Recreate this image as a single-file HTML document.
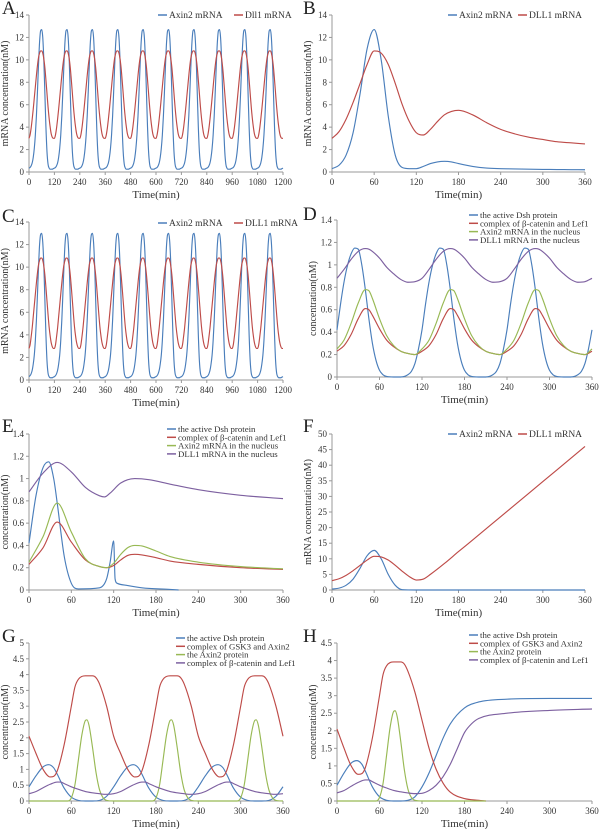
<!DOCTYPE html>
<html><head><meta charset="utf-8">
<style>
body{margin:0;background:#fff;}
svg{display:block;font-family:"Liberation Serif",serif;}
</style></head>
<body>
<svg id="fig" width="600" height="829" viewBox="0 0 600 829"></svg>
<script>
// ---------- DATA ----------
const aT = [0,5,10,15,20,25,30,35,40,45,50,55,60,65,70,75,80,85,90,95,100,105,110,115,120];
const aAxin2 = [0.35,0.4,0.55,0.8,1.3,2.1,3.3,5,7.2,9.6,11.6,12.6,12.7,12,10,7,4,1.8,0.7,0.35,0.25,0.25,0.25,0.3,0.35];
const aDll1 = [3,3.3,3.9,4.7,5.6,6.6,7.6,8.6,9.5,10.2,10.6,10.8,10.8,10.6,10.1,9.3,8.2,7,5.8,4.8,4,3.4,3.1,3,3];
const cAxin2 = [0.3,0.38,0.55,0.85,1.4,2.2,3.5,5.3,7.6,10,12,12.9,13,12.2,10.2,7.1,4,1.7,0.6,0.3,0.2,0.2,0.2,0.25,0.3];
const cDll1 = [2.8,3.1,3.8,4.6,5.6,6.6,7.6,8.6,9.5,10.2,10.6,10.8,10.8,10.6,10.1,9.3,8.2,7,5.8,4.7,3.9,3.3,2.95,2.8,2.8];
const bT = [0,10,20,30,40,50,60,70,80,90,100,110,120,130,140,150,160,170,180,200,220,240,260,280,300,320,340,360];
const bAxin2 = [0.3,0.6,1.5,3.5,7,11,12.7,10,5,1.5,0.4,0.3,0.3,0.5,0.75,0.9,0.95,0.9,0.75,0.5,0.35,0.3,0.27,0.25,0.23,0.22,0.21,0.2];
const bDll1 = [3,3.6,4.7,6.2,7.9,9.6,10.8,10.6,9.6,7.9,6,4.5,3.5,3.3,3.8,4.5,5.1,5.4,5.5,5.1,4.4,3.8,3.4,3.1,2.9,2.7,2.6,2.5];
const fAxT = [0,10,20,30,40,50,60,70,80,90,100,120,200,360];
const fAxin2 = [0.3,0.6,1.5,3.5,7,11,12.7,10,5,1.5,0.1,0,0,0];
const fDlT = [0,10,20,30,40,50,60,70,80,90,100,110,120,130,140,160,180,200,240,280,320,360];
const fDll1 = [3,3.6,4.7,6.2,7.9,9.6,10.8,10.6,9.6,7.9,6,4.3,3.2,3.5,5,8.5,12.3,16,23.5,31,38.5,46];
const dT = [0,5,10,15,20,25,30,35,40,45,50,55,60,65,70,80,90,100,105,110,115,120];
const dDsh = [0.42,0.65,0.85,1.0,1.1,1.15,1.14,1.0,0.78,0.52,0.3,0.15,0.06,0.02,0.005,0,0,0.02,0.05,0.12,0.25,0.42];
const dT2 = [0,10,20,30,40,45,50,60,70,80,90,100,110,120];
const dLef = [0.23,0.28,0.38,0.52,0.61,0.6,0.55,0.43,0.33,0.27,0.23,0.21,0.2,0.23];
const dAxin = [0.25,0.33,0.48,0.66,0.78,0.77,0.7,0.52,0.37,0.28,0.23,0.21,0.2,0.25];
const dDll = [0.88,0.96,1.05,1.12,1.145,1.14,1.12,1.06,0.98,0.92,0.87,0.845,0.85,0.88];
const eDshT = [0,10,20,28,35,40,50,60,70,100,110,115,120,122,125,140,160,200,212];
const eDsh = [0.42,0.85,1.1,1.15,1.0,0.78,0.3,0.06,0.01,0.02,0.1,0.25,0.44,0.1,0.06,0.04,0.02,0.005,0];
const eT = [0,20,40,60,80,100,110,120,130,140,150,160,180,200,240,300,360];
const eLef = [0.23,0.38,0.61,0.43,0.27,0.21,0.2,0.22,0.27,0.31,0.32,0.315,0.29,0.26,0.23,0.2,0.185];
const eAxin = [0.25,0.48,0.78,0.52,0.28,0.21,0.2,0.24,0.32,0.38,0.4,0.395,0.35,0.3,0.25,0.21,0.19];
const eDllT = [0,20,40,60,80,100,107,115,130,150,170,200,240,300,360];
const eDll = [0.88,1.05,1.145,1.06,0.92,0.845,0.835,0.87,0.96,1.0,0.99,0.95,0.9,0.85,0.82];
const gT = [0,10,20,28,35,40,50,60,70,80,90,100,110,120];
const gDsh = [0.45,0.8,1.08,1.15,1.05,0.85,0.4,0.12,0.02,0,0,0.02,0.15,0.45];
const gGskT = [0,10,20,30,35,40,50,60,65,70,80,90,95,100,110,120];
const gGsk = [2.05,1.5,1.0,0.76,0.78,0.95,1.8,3.0,3.6,3.85,3.96,3.96,3.9,3.7,3.0,2.05];
const gAxT = [0,55,60,65,70,75,80,82,85,90,95,100,105,110,120];
const gAxin = [0,0,0.1,0.5,1.3,2.1,2.55,2.57,2.4,1.7,0.9,0.35,0.1,0.02,0];
const gLefT = [0,10,20,30,40,45,50,60,70,80,90,100,110,120];
const gLef = [0.23,0.3,0.42,0.53,0.6,0.6,0.55,0.45,0.37,0.3,0.26,0.23,0.21,0.23];
const hDshT = [0,10,20,28,35,40,50,60,70,80,90,100,110,120,130,140,150,160,180,200,240,300,360];
const hDsh = [0.45,0.8,1.08,1.15,1.05,0.85,0.4,0.12,0.02,0,0,0.02,0.12,0.4,0.8,1.3,1.8,2.2,2.65,2.82,2.9,2.92,2.92];
const hGskT = [0,10,20,30,35,40,50,60,65,70,80,90,95,100,110,120,130,140,150,160,180,200,210];
const hGsk = [2.05,1.5,1.0,0.76,0.78,0.95,1.8,3.0,3.6,3.85,3.96,3.96,3.9,3.7,3.1,2.3,1.5,0.9,0.5,0.25,0.07,0.02,0];
const hAxT = [0,55,60,65,70,75,80,82,85,90,95,100,105,110,120,210];
const hAxin = [0,0,0.1,0.5,1.3,2.1,2.55,2.57,2.4,1.7,0.9,0.35,0.1,0.02,0,0];
const hLefT = [0,10,20,30,40,45,50,60,70,80,90,100,110,120,130,140,150,160,170,180,190,200,240,300,360];
const hLef = [0.23,0.3,0.42,0.53,0.6,0.6,0.55,0.45,0.37,0.3,0.26,0.23,0.21,0.22,0.3,0.45,0.7,1.05,1.5,1.95,2.2,2.35,2.5,2.58,2.62];

const BLUE="#4a7ebb", RED="#be4b48", GREEN="#98b954", PURPLE="#7d60a0";

function rep(ts, vs, period, tmax){
  const T=[],V=[];
  for(let k=0;k*period<tmax;k++){
    for(let i=(k?1:0);i<ts.length;i++){
      const t=ts[i]+k*period; if(t>tmax+0.001) break;
      T.push(t); V.push(vs[i]);
    }
  }
  return [T,V];
}
const NS="http://www.w3.org/2000/svg";
const svg=document.getElementById('fig');
function mk(tag,attrs,parent){const e=document.createElementNS(NS,tag);for(const k in attrs)e.setAttribute(k,attrs[k]);(parent||svg).appendChild(e);return e;}

function monoPath(xs,ys){
  const n=xs.length; if(n<2) return "";
  const d=[],m=new Array(n);
  for(let i=0;i<n-1;i++) d.push((ys[i+1]-ys[i])/(xs[i+1]-xs[i]));
  m[0]=d[0]; m[n-1]=d[n-2];
  for(let i=1;i<n-1;i++){ m[i]=(d[i-1]*d[i]<=0)?0:(d[i-1]+d[i])/2; }
  for(let i=0;i<n-1;i++){ if(d[i]===0){m[i]=0;m[i+1]=0;continue;}
    const a=m[i]/d[i],b=m[i+1]/d[i],s=a*a+b*b; if(s>9){const t=3/Math.sqrt(s);m[i]=t*a*d[i];m[i+1]=t*b*d[i];}}
  let p="M"+xs[0].toFixed(2)+","+ys[0].toFixed(2);
  for(let i=0;i<n-1;i++){const h=(xs[i+1]-xs[i])/3;
    p+=" C"+(xs[i]+h).toFixed(2)+","+(ys[i]+m[i]*h).toFixed(2)+" "+(xs[i+1]-h).toFixed(2)+","+(ys[i+1]-m[i+1]*h).toFixed(2)+" "+xs[i+1].toFixed(2)+","+ys[i+1].toFixed(2);}
  return p;
}

function panel(cfg){
  const g=mk('g',{});
  
  
  const sx=v=>cfg.x0+(v/cfg.xmax)*(cfg.x1-cfg.x0);
  const sy=v=>cfg.yb-(v/cfg.ymax)*(cfg.yb-cfg.yt);
  const L=mk('text',{x:cfg.lx,y:cfg.ly,'font-size':19,fill:'#222'},g); L.textContent=cfg.letter;
   
  const ax=mk('path',{d:`M${cfg.x0},${cfg.yt} V${cfg.yb} H${cfg.x1}`,stroke:'#999',fill:'none','stroke-width':1},g);
   
  const nY=Math.round(cfg.ymax/cfg.ystep);
  for(let i=0;i<=nY;i++){const v=+(i*cfg.ystep).toFixed(2),y=sy(v);
    mk('line',{x1:cfg.x0-3,x2:cfg.x0,y1:y,y2:y,stroke:'#999'},g);
    const t=mk('text',{x:cfg.x0-5,y:y+3,'font-size':9,'text-anchor':'end',fill:'#333'},g); t.textContent=String(v);
     }
  for(let v=0;v<=cfg.xmax;v+=cfg.xstep){const x=sx(v);
    mk('line',{x1:x,x2:x,y1:cfg.yb,y2:cfg.yb+3,stroke:'#999'},g);
    const t=mk('text',{x:x,y:cfg.yb+13,'font-size':9,'text-anchor':'middle',fill:'#333'},g); t.textContent=String(v);
     }
  const xt=mk('text',{x:(cfg.x0+cfg.x1)/2,y:cfg.yb+26,'font-size':11,'text-anchor':'middle',fill:'#333'},g); xt.textContent='Time(min)';
   
  const cy=(cfg.yt+cfg.yb)/2, tx=cfg.x0-21;
  const yt=mk('text',{x:tx,y:cy,'font-size':10,'text-anchor':'middle',fill:'#333',transform:`rotate(-90 ${tx} ${cy})`},g); yt.textContent=cfg.ytitle;
   
  cfg.series.forEach(s=>{
    const p=mk('path',{d:monoPath(s.t.map(sx),s.v.map(sy)),stroke:s.c,fill:'none','stroke-width':1.15},g);
     
  });
  cfg.series.forEach((s,i)=>{
    let lx,ly;
    if(cfg.legH){ lx=cfg.legX+i*cfg.legGap; ly=cfg.legY; }
    else { lx=cfg.legX; ly=cfg.legY+i*8.3; }
    mk('line',{x1:lx,x2:lx+9,y1:ly,y2:ly,stroke:s.c,'stroke-width':1.5},g);
    const t=mk('text',{x:lx+11,y:ly+3,'font-size':cfg.legH?9.5:8.8,fill:'#333'},g); t.textContent=s.n;
     
  });
}

let A1=rep(aT,aAxin2,120,1200),A2=rep(aT,aDll1,120,1200);
panel({letter:'A',lx:2,ly:14,x0:29,x1:283,yt:15,yb:172,xmax:1200,xstep:120,ymax:14,ystep:2,ytitle:'mRNA concentration(nM)',
  legH:true,legX:158,legGap:76,legY:15,series:[{t:A1[0],v:A1[1],c:BLUE,n:'Axin2 mRNA'},{t:A2[0],v:A2[1],c:RED,n:'Dll1 mRNA'}]});
panel({letter:'B',lx:303,ly:14,x0:332,x1:585,yt:15,yb:172,xmax:360,xstep:60,ymax:14,ystep:2,ytitle:'mRNA concentration(nM)',
  legH:true,legX:448,legGap:70,legY:15,series:[{t:bT,v:bAxin2,c:BLUE,n:'Axin2 mRNA'},{t:bT,v:bDll1,c:RED,n:'DLL1 mRNA'}]});
let C1=rep(aT,cAxin2,120,1200),C2=rep(aT,cDll1,120,1200);
panel({letter:'C',lx:2,ly:222,x0:29,x1:283,yt:222,yb:380,xmax:1200,xstep:120,ymax:14,ystep:2,ytitle:'mRNA concentration(nM)',
  legH:true,legX:158,legGap:76,legY:223,series:[{t:C1[0],v:C1[1],c:BLUE,n:'Axin2 mRNA'},{t:C2[0],v:C2[1],c:RED,n:'DLL1 mRNA'}]});
let D1=rep(dT,dDsh,120,360),D2=rep(dT2,dLef,120,360),D3=rep(dT2,dAxin,120,360),D4=rep(dT2,dDll,120,360);
panel({letter:'D',lx:303,ly:220,x0:337,x1:592,yt:220,yb:377,xmax:360,xstep:60,ymax:1.4,ystep:0.2,ytitle:'concentration(nM)',
  legX:469,legY:215,series:[{t:D1[0],v:D1[1],c:BLUE,n:'the active Dsh protein'},{t:D2[0],v:D2[1],c:RED,n:'complex of β-catenin and Lef1'},
  {t:D3[0],v:D3[1],c:GREEN,n:'Axin2 mRNA in the nucleus'},{t:D4[0],v:D4[1],c:PURPLE,n:'DLL1 mRNA in the nucleus'}]});
panel({letter:'E',lx:2,ly:432,x0:29,x1:283,yt:434,yb:590,xmax:360,xstep:60,ymax:1.4,ystep:0.2,ytitle:'concentration(nM)',
  legX:167,legY:429,series:[{t:eDshT,v:eDsh,c:BLUE,n:'the active Dsh protein'},{t:eT,v:eLef,c:RED,n:'complex of β-catenin and Lef1'},
  {t:eT,v:eAxin,c:GREEN,n:'Axin2 mRNA in the nucleus'},{t:eDllT,v:eDll,c:PURPLE,n:'DLL1 mRNA in the nucleus'}]});
panel({letter:'F',lx:303,ly:432,x0:332,x1:585,yt:434,yb:590,xmax:360,xstep:60,ymax:50,ystep:5,ytitle:'mRNA concentration(nM)',
  legH:true,legX:448,legGap:70,legY:434,series:[{t:fAxT,v:fAxin2,c:BLUE,n:'Axin2 mRNA'},{t:fDlT,v:fDll1,c:RED,n:'DLL1 mRNA'}]});
let G1=rep(gT,gDsh,120,360),G2=rep(gGskT,gGsk,120,360),G3=rep(gAxT,gAxin,120,360),G4=rep(gLefT,gLef,120,360);
panel({letter:'G',lx:2,ly:642,x0:29,x1:283,yt:643,yb:801,xmax:360,xstep:60,ymax:5,ystep:0.5,ytitle:'concentration(nM)',
  legX:176,legY:638,series:[{t:G1[0],v:G1[1],c:BLUE,n:'the active Dsh protein'},{t:G2[0],v:G2[1],c:RED,n:'complex of GSK3 and Axin2'},
  {t:G3[0],v:G3[1],c:GREEN,n:'the Axin2 protein'},{t:G4[0],v:G4[1],c:PURPLE,n:'complex of β-catenin and Lef1'}]});
panel({letter:'H',lx:303,ly:642,x0:337,x1:592,yt:643,yb:801,xmax:360,xstep:60,ymax:4.5,ystep:0.5,ytitle:'concentration(nM)',
  legX:469,legY:635,series:[{t:hDshT,v:hDsh,c:BLUE,n:'the active Dsh protein'},{t:hGskT,v:hGsk,c:RED,n:'complex of GSK3 and Axin2'},
  {t:hAxT,v:hAxin,c:GREEN,n:'the Axin2 protein'},{t:hLefT,v:hLef,c:PURPLE,n:'complex of β-catenin and Lef1'}]});
</script>
</body></html>
